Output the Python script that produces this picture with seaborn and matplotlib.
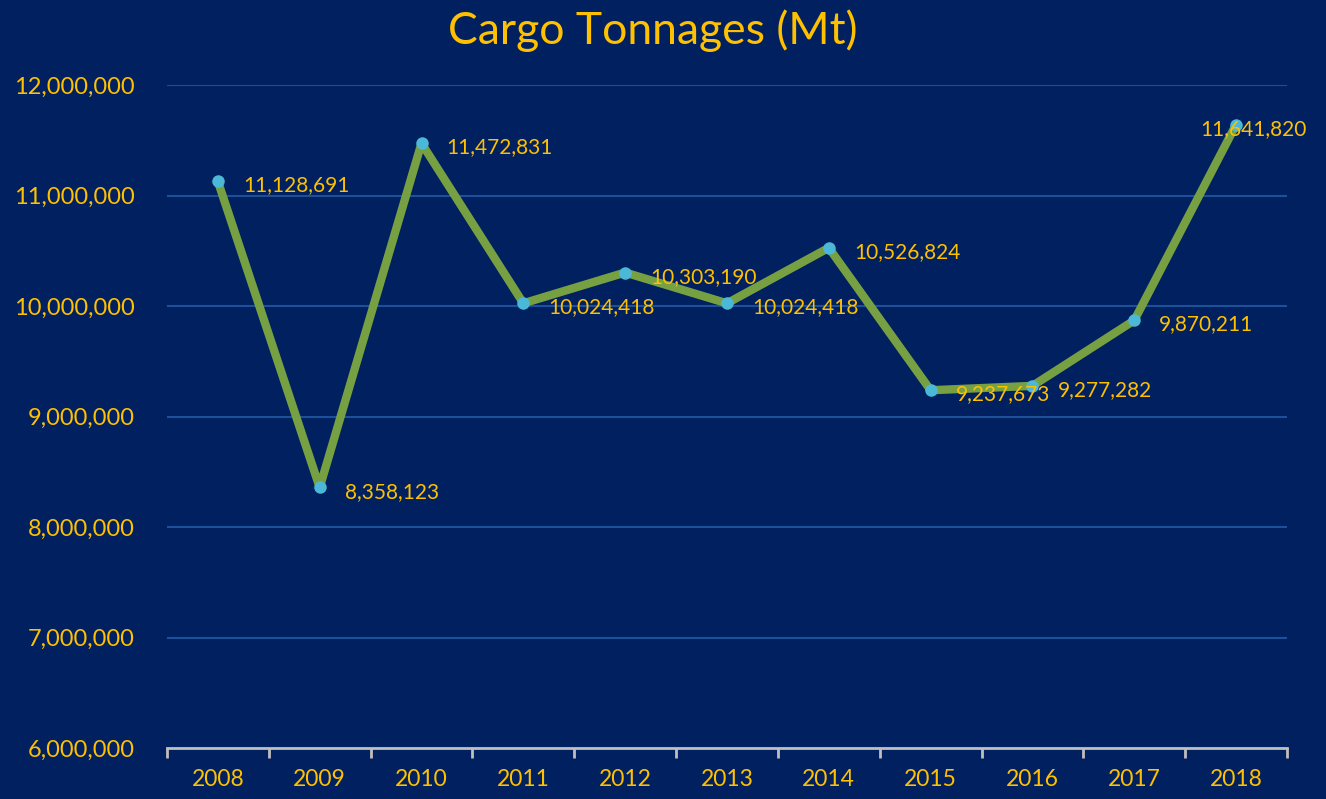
import pandas as pd
import seaborn as sns
from matplotlib import pyplot as plt
from matplotlib.ticker import FuncFormatter, FixedLocator

years = ["2008", "2009", "2010", "2011", "2012", "2013", "2014", "2015", "2016", "2017", "2018"]
tonnes = [11128691, 8358123, 11472831, 10024418, 10303190, 10024418, 10526824,
          9237673, 9277282, 9870211, 11641820]

bg = "#002060"
gold = "#FFC000"
green = "#77A043"
cyan = "#4BB8D8"
grid = "#1C5099"

sns.set_theme(style="dark")
plt.rcParams["font.family"] = ["Lato", "DejaVu Sans"]

data = pd.DataFrame({"Year": years, "Tonnes": tonnes})

fig = plt.figure(figsize=(13.26, 7.99), dpi=100, facecolor=bg)
ax = fig.add_axes([0.1259, 0.0638, 0.8447, 0.8298])
ax.set_facecolor(bg)

sns.lineplot(data=data, x="Year", y="Tonnes", ax=ax, color=green, linewidth=6,
             marker="o", markersize=9, markerfacecolor=cyan, markeredgewidth=0,
             zorder=3, clip_on=False)

ax.set_xlim(-0.5, len(years) - 0.5)
ax.set_ylim(6000000, 12000000)
ax.set_yticks(range(6000000, 12000001, 1000000))
ax.yaxis.set_major_formatter(FuncFormatter(lambda v, p: f"{int(v):,}"))
ax.grid(axis="y", color=grid, linewidth=1.5)
ax.grid(axis="x", visible=False)
ax.set_axisbelow(True)

for s in ["top", "right", "left"]:
    ax.spines[s].set_visible(False)
ax.spines["bottom"].set_color("#BFBFBF")
ax.spines["bottom"].set_linewidth(2)

ax.xaxis.set_minor_locator(FixedLocator([i - 0.5 for i in range(len(years) + 1)]))
ax.tick_params(axis="x", which="minor", length=7, width=2, color="#BFBFBF", direction="out", bottom=True)
ax.tick_params(axis="x", which="major", length=0, pad=15, labelsize=16.5, labelcolor=gold)
ax.tick_params(axis="y", length=0, pad=23, labelsize=17, labelcolor=gold)
ax.set_xlabel("")
ax.set_ylabel("")

for i, v in enumerate(tonnes):
    if i == len(tonnes) - 1:
        ax.annotate(f"{v:,}", (i, v), xytext=(-26, -3), textcoords="offset points",
                    ha="left", va="center", color=gold, fontsize=15, zorder=4)
    else:
        ax.annotate(f"{v:,}", (i, v), xytext=(18, -3), textcoords="offset points",
                    ha="left", va="center", color=gold, fontsize=15, zorder=4)

fig.text(0.492, 0.962, "Cargo Tonnages (Mt)", ha="center", va="center",
         color=gold, fontsize=32)

fig.savefig("out.png", dpi=100, facecolor=bg)
